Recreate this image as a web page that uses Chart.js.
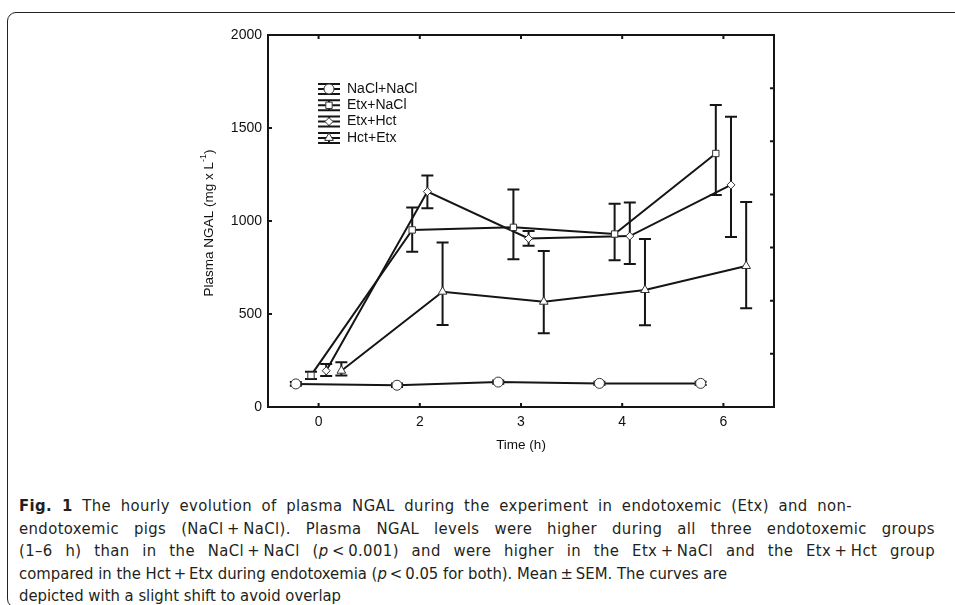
<!DOCTYPE html>
<html>
<head>
<meta charset="utf-8">
<script src="https://cdn.jsdelivr.net/npm/chart.js@4/dist/chart.umd.min.js"></script>
<style>
  html, body { margin: 0; padding: 0; background: #fff; }
  body { width: 955px; height: 605px; position: relative; overflow: hidden; }
  #frame { position: absolute; left: 7px; top: 12px; width: 1000px; height: 596px;
           border: 1.5px solid #222; border-radius: 9px; box-sizing: border-box; }
  #chart { position: absolute; left: 0; top: 0; }
  #caption { position: absolute; left: 19px; top: 495px;
             font-family: "Liberation Sans Narrow", "DejaVu Sans Condensed", sans-serif;
             font-size: 16.5px; line-height: 22.6px; color: #231f20; }
  #caption div { white-space: nowrap; }
  #caption .j { text-align: justify; text-align-last: justify; letter-spacing: 0.4px; }
</style>
</head>
<body>
<div id="frame"></div>
<canvas id="chart" width="955" height="470"></canvas>
<div id="caption">
  <div class="j" style="width:833px"><b>Fig. 1</b> The hourly evolution of plasma NGAL during the experiment in endotoxemic (Etx) and non-</div>
  <div class="j" style="width:916px">endotoxemic pigs (NaCl&thinsp;+&thinsp;NaCl). Plasma NGAL levels were higher during all three endotoxemic groups</div>
  <div class="j" style="width:916px">(1–6 h) than in the NaCl&thinsp;+&thinsp;NaCl (<i>p</i>&thinsp;&lt;&thinsp;0.001) and were higher in the Etx&thinsp;+&thinsp;NaCl and the Etx&thinsp;+&thinsp;Hct group</div>
  <div>compared in the Hct&thinsp;+&thinsp;Etx during endotoxemia (<i>p</i>&thinsp;&lt;&thinsp;0.05 for both). Mean&thinsp;±&thinsp;SEM. The curves are</div>
  <div>depicted with a slight shift to avoid overlap</div>
</div>
<script>
// time points (h), shown as equally spaced categories
var timeLabels = ['0', '2', '3', '4', '6'];
var yTicks = [0, 500, 1000, 1500, 2000];

// plasma NGAL, mean with upper / lower end of the SEM bar
var naclMean = [124, 117, 134, 127, 127];
var naclHi   = [134, 126, 143, 136, 136];
var naclLo   = [114, 108, 125, 118, 118];

var etxNaclMean = [170, 952, 966, 930, 1363];
var etxNaclHi   = [190, 1072, 1170, 1093, 1624];
var etxNaclLo   = [150, 835, 794, 789, 1140];

var etxHctMean = [195, 1158, 906, 919, 1194];
var etxHctHi   = [231, 1244, 946, 1099, 1561];
var etxHctLo   = [167, 1068, 867, 769, 914];

var hctEtxMean = [195, 620, 566, 629, 758];
var hctEtxHi   = [240, 885, 839, 903, 1102];
var hctEtxLo   = [170, 441, 396, 439, 531];

var seriesNames = ['NaCl+NaCl', 'Etx+NaCl', 'Etx+Hct', 'Hct+Etx'];

var FONT = '"Liberation Sans", Arial, sans-serif';

function points(mean, shift) {
  return mean.map(function (v, i) { return { x: i + shift, y: v }; });
}

function series(label, mean, hi, lo, shift, style, radius) {
  return {
    label: label,
    data: points(mean, shift),
    hi: hi, lo: lo,
    borderColor: '#151515',
    borderWidth: 2,
    pointStyle: style,
    pointRadius: radius,
    pointBackgroundColor: '#fff',
    pointBorderColor: '#333',
    pointBorderWidth: 1,
    tension: 0
  };
}

var datasets = [
  series(seriesNames[0], naclMean, naclHi, naclLo, -0.225, 'circle', 5),
  series(seriesNames[1], etxNaclMean, etxNaclHi, etxNaclLo, -0.075, 'rect', 4.5),
  series(seriesNames[2], etxHctMean, etxHctHi, etxHctLo, 0.075, 'rectRot', 4),
  series(seriesNames[3], hctEtxMean, hctEtxHi, hctEtxLo, 0.225, 'triangle', 5)
];

// error bars, box with inward ticks, axis titles and the inset legend
var decor = {
  id: 'decor',
  beforeDatasetsDraw: function (chart) {
    var ctx = chart.ctx, ys = chart.scales.y;
    ctx.save();
    ctx.strokeStyle = '#151515';
    ctx.lineWidth = 2;
    chart.data.datasets.forEach(function (ds, d) {
      chart.getDatasetMeta(d).data.forEach(function (pt, i) {
        var top = ys.getPixelForValue(ds.hi[i]), bot = ys.getPixelForValue(ds.lo[i]);
        ctx.beginPath();
        ctx.moveTo(pt.x, top); ctx.lineTo(pt.x, bot);
        ctx.moveTo(pt.x - 6, top); ctx.lineTo(pt.x + 6, top);
        ctx.moveTo(pt.x - 6, bot); ctx.lineTo(pt.x + 6, bot);
        ctx.stroke();
      });
    });
    ctx.restore();
  },
  afterDraw: function (chart) {
    var ctx = chart.ctx, a = chart.chartArea, xs = chart.scales.x, ys = chart.scales.y;
    ctx.save();
    ctx.strokeStyle = '#151515';
    ctx.lineWidth = 2;
    ctx.strokeRect(a.left, a.top, a.right - a.left, a.bottom - a.top);
    ctx.beginPath();
    timeLabels.forEach(function (t, i) {
      var x = xs.getPixelForValue(i);
      ctx.moveTo(x, a.bottom); ctx.lineTo(x, a.bottom - 4);
      ctx.moveTo(x, a.top); ctx.lineTo(x, a.top + 4);
    });
    yTicks.forEach(function (v) {
      var y = ys.getPixelForValue(v);
      ctx.moveTo(a.left, y); ctx.lineTo(a.left + 4, y);
    });
    for (var k = 1; k < 7; k++) {
      var y = a.top + k * (a.bottom - a.top) / 7;
      ctx.moveTo(a.right, y); ctx.lineTo(a.right - 4, y);
    }
    ctx.stroke();

    // axis titles
    ctx.fillStyle = '#111';
    ctx.font = '13.5px ' + FONT;
    ctx.textAlign = 'center';
    ctx.textBaseline = 'middle';
    ctx.fillText('Time (h)', (a.left + a.right) / 2, 445);

    ctx.save();
    ctx.translate(209, (a.top + a.bottom) / 2 + 2);
    ctx.rotate(-Math.PI / 2);
    var main = 'Plasma NGAL (mg x L', sup = '-1', end = ')';
    ctx.font = '13.5px ' + FONT;
    var w1 = ctx.measureText(main).width, w3 = ctx.measureText(end).width;
    ctx.font = '9px ' + FONT;
    var w2 = ctx.measureText(sup).width;
    var x0 = -(w1 + w2 + w3) / 2;
    ctx.textAlign = 'left';
    ctx.font = '13.5px ' + FONT;
    ctx.fillText(main, x0, 0);
    ctx.font = '9px ' + FONT;
    ctx.fillText(sup, x0 + w1, -5);
    ctx.font = '13.5px ' + FONT;
    ctx.fillText(end, x0 + w1 + w2, 0);
    ctx.restore();

    // legend
    var lx = a.left + 61, ly = a.top + 54;
    chart.data.datasets.forEach(function (ds, d) {
      var y = ly + d * 16.3;
      ctx.strokeStyle = '#151515';
      ctx.lineWidth = 2;
      ctx.beginPath();
      ctx.moveTo(lx - 11, y); ctx.lineTo(lx + 11, y);
      ctx.moveTo(lx - 11, y - 5); ctx.lineTo(lx + 11, y - 5);
      ctx.moveTo(lx - 11, y + 5); ctx.lineTo(lx + 11, y + 5);
      ctx.moveTo(lx, y - 5); ctx.lineTo(lx, y + 5);
      ctx.stroke();
      ctx.fillStyle = '#fff';
      ctx.strokeStyle = '#333';
      ctx.lineWidth = 1;
      Chart.helpers.drawPoint(ctx, { pointStyle: ds.pointStyle, radius: ds.pointRadius, rotation: 0, borderWidth: 1 }, lx, y);
      ctx.fillStyle = '#111';
      ctx.font = '14px ' + FONT;
      ctx.textAlign = 'left';
      ctx.textBaseline = 'middle';
      ctx.fillText(ds.label, lx + 18, y);
    });
    ctx.restore();
  }
};

Chart.defaults.font.family = FONT;
Chart.defaults.font.size = 14;
Chart.defaults.color = '#111';

new Chart(document.getElementById('chart'), {
  type: 'line',
  data: { datasets: datasets },
  options: {
    responsive: false,
    animation: false,
    layout: { padding: { left: 0, top: 35, right: 181, bottom: 23 } },
    plugins: { legend: { display: false }, tooltip: { enabled: false } },
    scales: {
      x: {
        type: 'linear', min: -0.5, max: 4.5,
        afterBuildTicks: function (s) { s.ticks = timeLabels.map(function (t, i) { return { value: i }; }); },
        afterFit: function (s) { s.height = 40; },
        grid: { display: false, drawTicks: false },
        border: { display: false },
        ticks: { padding: 7, maxRotation: 0, callback: function (v) { return timeLabels[v]; } }
      },
      y: {
        min: 0, max: 2000,
        afterBuildTicks: function (s) { s.ticks = yTicks.map(function (v) { return { value: v }; }); },
        afterFit: function (s) { s.width = 268; },
        grid: { display: false, drawTicks: false },
        border: { display: false },
        ticks: { padding: 6, callback: function (v) { return String(v); } }
      }
    }
  },
  plugins: [decor]
});
</script>
</body>
</html>
